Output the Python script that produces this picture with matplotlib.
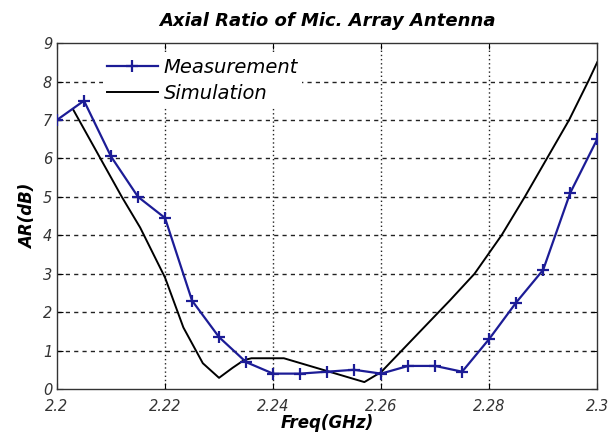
import matplotlib

matplotlib.use("Agg")
import numpy as np
import matplotlib.pyplot as plt

# measured axial ratio, every 5 MHz
meas_freq = [2.200, 2.205, 2.210, 2.215, 2.220, 2.225, 2.230, 2.235, 2.240, 2.245, 2.250,
             2.255, 2.260, 2.265, 2.270, 2.275, 2.280, 2.285, 2.290, 2.295, 2.300]
meas_ar = [7.0, 7.5, 6.05, 5.0, 4.45, 2.3, 1.35, 0.7, 0.4, 0.4, 0.45,
           0.5, 0.4, 0.6, 0.6, 0.45, 1.3, 2.25, 3.1, 5.1, 6.5]

# simulated curve
sim_freq = [2.203, 2.212, 2.2154, 2.220, 2.2234, 2.227, 2.230, 2.2325, 2.2346, 2.236, 2.242,
            2.2569, 2.260, 2.2727, 2.2773, 2.2823, 2.2866, 2.2907, 2.2948, 2.2985, 2.300]
sim_ar = [7.27, 5.0, 4.2, 2.9, 1.6, 0.67, 0.29, 0.55, 0.75, 0.8, 0.8,
          0.18, 0.44, 2.3, 3.0, 4.0, 5.0, 6.0, 7.0, 8.05, 8.5]

x_ticks = [2.2, 2.22, 2.24, 2.26, 2.28, 2.3]
x_labels = ["2.2", "2.22", "2.24", "2.26", "2.28", "2.3"]
y_ticks = list(range(0, 10))

fig = plt.figure(figsize=(6.1, 4.34), dpi=100)
ax = fig.add_axes([0.0934, 0.1037, 0.8856, 0.797])

ax.plot(meas_freq, meas_ar, color="#1c1c96", lw=1.6, marker="+", ms=9, mew=1.6,
        label="Measurement", zorder=3)
ax.plot(sim_freq, sim_ar, color="black", lw=1.4, label="Simulation", zorder=2)

ax.set_xlim(2.2, 2.3)
ax.set_ylim(0, 9)
ax.set_xticks(x_ticks)
ax.set_xticklabels(x_labels)
ax.set_yticks(y_ticks)

for y in y_ticks[1:-1]:
    ax.axhline(y, color="#222222", lw=1.0, ls=(0, (3, 3)), zorder=1)
for x in x_ticks[1:-1]:
    ax.axvline(x, color="#222222", lw=1.0, ls=(0, (1, 2)), zorder=1)

ax.tick_params(direction="in", top=True, right=True, length=4, labelsize=10.5,
               labelcolor="#333333")
ax.tick_params(axis="x", pad=7)
for lab in ax.get_xticklabels() + ax.get_yticklabels():
    lab.set_fontstyle("italic")
for s in ax.spines.values():
    s.set_color("#333333")
    s.set_linewidth(1.0)

ax.set_title("Axial Ratio of Mic. Array Antenna", fontsize=13, fontweight="bold",
             fontstyle="italic", pad=12)
ax.set_xlabel("Freq(GHz)", fontsize=12, fontweight="bold", fontstyle="italic", labelpad=0)
ax.set_ylabel("AR(dB)", fontsize=12, fontweight="bold", fontstyle="italic", labelpad=4)

leg = ax.legend(loc="upper left", bbox_to_anchor=(0.075, 0.985), frameon=True,
                prop={"style": "italic", "size": 14}, handlelength=2.6,
                handletextpad=0.3, labelspacing=0.35, borderaxespad=0.3,
                borderpad=0.2, fancybox=False)
leg.get_frame().set_facecolor("white")
leg.get_frame().set_edgecolor("none")
leg.get_frame().set_alpha(1.0)

fig.savefig("out.png", dpi=100)
